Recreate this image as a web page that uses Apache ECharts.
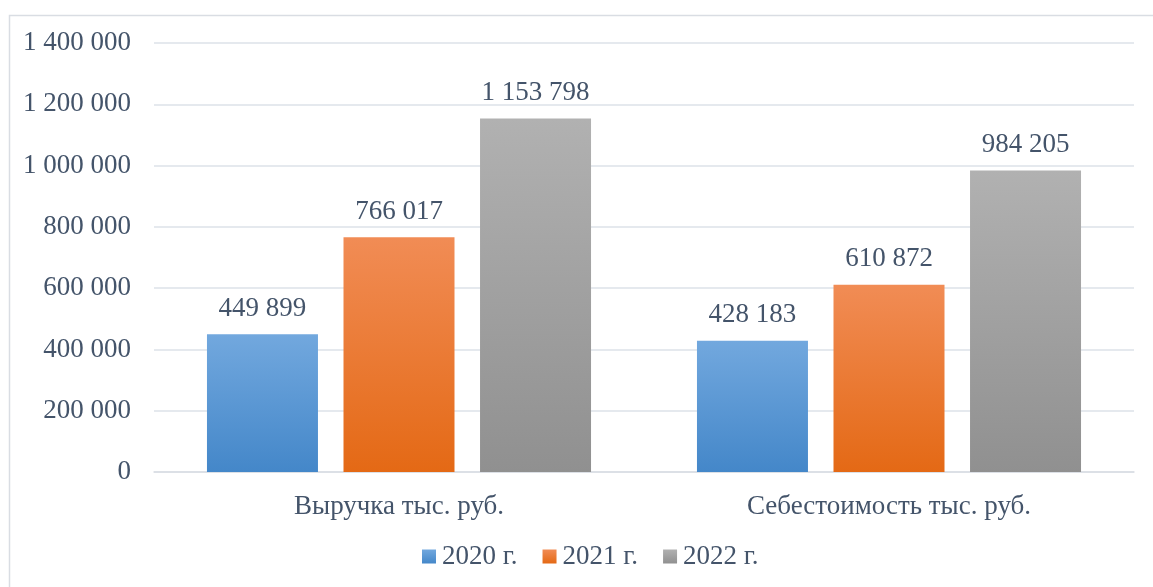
<!DOCTYPE html>
<html>
<head>
<meta charset="utf-8">
<script src="https://cdn.jsdelivr.net/npm/echarts@6/dist/echarts.min.js"></script>
<style>
  html, body { margin: 0; padding: 0; background: #fff; }
  #chart { width: 1153px; height: 587px; }
</style>
</head>
<body>
<div id="chart"></div>
<script>
var categories = ['Выручка тыс. руб.', 'Себестоимость тыс. руб.'];
var seriesNames = ['2020 г.', '2021 г.', '2022 г.'];
var values2020 = [449899, 428183];
var values2021 = [766017, 610872];
var values2022 = [1153798, 984205];

var textColor = '#44546a';
var fontName = '"Liberation Serif", "Times New Roman", serif';
var fs = 27;

// верх / низ градиента для каждого года
var gradColors = [
  ['#72a8de', '#4487c9'],
  ['#f18c55', '#e46915'],
  ['#b1b1b1', '#909090']
];

function fmt(v){
  return String(v).replace(/\B(?=(\d{3})+(?!\d))/g, ' ');
}

function grad(c){
  return new echarts.graphic.LinearGradient(0, 0, 0, 1, [
    { offset: 0, color: c[0] },
    { offset: 1, color: c[1] }
  ]);
}

var allData = [values2020, values2021, values2022];
var series = [];
for (var i = 0; i < seriesNames.length; i++) {
  series.push({
    name: seriesNames[i],
    type: 'bar',
    data: allData[i],
    barWidth: 111,
    barGap: '23%',
    itemStyle: { color: grad(gradColors[i]) },
    label: {
      show: true,
      position: 'top',
      distance: 12,
      color: textColor,
      fontFamily: fontName,
      fontSize: fs,
      formatter: function(p){ return fmt(p.value); }
    }
  });
}

var chart = echarts.init(document.getElementById('chart'));
var option = {
  animation: false,
  backgroundColor: '#fff',
  graphic: [{
    type: 'rect',
    left: 7, top: 13,
    shape: { width: 1170, height: 600 },
    style: { fill: 'none', stroke: '#d9dde3', lineWidth: 1.5 },
    silent: true
  }],
  grid: { left: 154, right: 19, top: 43, bottom: 115 },
  legend: {
    bottom: 12,
    left: 417,
    itemWidth: 14,
    itemHeight: 14,
    itemGap: 25,
    icon: 'rect',
    textStyle: { color: textColor, fontFamily: fontName, fontSize: fs, padding: [0, 0, 0, 1] },
    data: seriesNames
  },
  xAxis: {
    type: 'category',
    data: categories,
    axisLine: { lineStyle: { color: '#d9dde3', width: 1.5 } },
    axisTick: { show: false },
    axisLabel: { color: textColor, fontFamily: fontName, fontSize: fs, margin: 21 }
  },
  yAxis: {
    type: 'value',
    min: 0,
    max: 1400000,
    interval: 200000,
    axisLine: { show: false },
    axisTick: { show: false },
    splitLine: { lineStyle: { color: '#dde2e8', width: 1.5 } },
    axisLabel: {
      color: textColor, fontFamily: fontName, fontSize: fs, margin: 23,
      formatter: function(v){ return fmt(v); }
    }
  },
  series: series
};
chart.setOption(option);
</script>
</body>
</html>
